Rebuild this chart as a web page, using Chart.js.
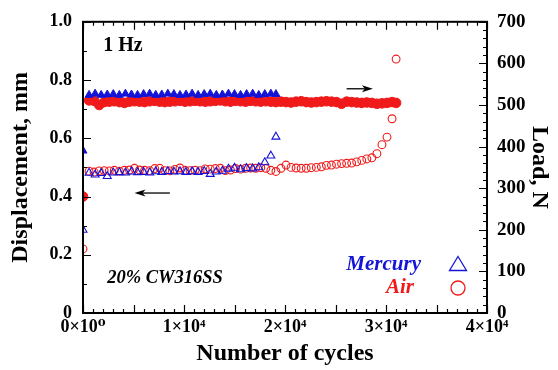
<!DOCTYPE html>
<html>
<head>
<meta charset="utf-8">
<script src="https://cdn.jsdelivr.net/npm/chart.js@4/dist/chart.umd.min.js"></script>
<style>
  html, body { margin: 0; padding: 0; background: #fff; }
  #wrap { width: 558px; height: 370px; }
</style>
</head>
<body>
<div id="wrap"><canvas id="chart"></canvas></div>
<script>
// cycles for the mercury test (shared by load and displacement)
const mercuryCycles = [0, 600, 1200, 1800, 2400, 3000, 3600, 4200, 4800, 5400, 6000, 6600,
  7200, 7800, 8400, 9000, 9600, 10200, 10800, 11400, 12000, 12600, 13200, 13800, 14400,
  15000, 15600, 16200, 16800, 17400, 18000, 18600, 19100];
const mercuryDisp = [0.285, 0.481, 0.475, 0.480, 0.470, 0.482, 0.483, 0.482, 0.485, 0.483,
  0.484, 0.482, 0.486, 0.484, 0.487, 0.485, 0.486, 0.484, 0.486, 0.484, 0.487, 0.477, 0.485,
  0.488, 0.495, 0.498, 0.493, 0.497, 0.496, 0.500, 0.517, 0.540, 0.605];
const mercuryLoad = [390, 524, 527, 524, 525, 526, 524, 527, 525, 524, 526, 527, 524, 525,
  527, 526, 524, 525, 527, 524, 526, 527, 524, 525, 527, 526, 524, 526, 527, 524, 526, 527, 526];

// cycles for the air test
const airCycles = [0, 600, 1100, 1600, 2100, 2600, 3100, 3600, 4100, 4600, 5100, 5600, 6100,
  6600, 7100, 7600, 8100, 8600, 9100, 9600, 10100, 10600, 11100, 11600, 12100, 12600, 13100,
  13600, 14100, 14600, 15100, 15600, 16100, 16600, 17100, 17600, 18100, 18600, 19100, 19600,
  20100, 20600, 21100, 21600, 22100, 22600, 23100, 23600, 24100, 24600, 25100, 25600, 26100,
  26600, 27100, 27600, 28100, 28600, 29100, 29600, 30100, 30600, 31000];
const airDisp = [0.22, 0.487, 0.484, 0.488, 0.489, 0.488, 0.490, 0.487, 0.490, 0.491, 0.497,
  0.491, 0.490, 0.489, 0.496, 0.497, 0.489, 0.488, 0.493, 0.498, 0.490, 0.489, 0.490, 0.489,
  0.495, 0.494, 0.496, 0.497, 0.489, 0.491, 0.496, 0.494, 0.497, 0.498, 0.497, 0.499, 0.497,
  0.490, 0.486, 0.497, 0.508, 0.500, 0.498, 0.497, 0.497, 0.499, 0.500, 0.502, 0.507, 0.508,
  0.511, 0.513, 0.514, 0.515, 0.519, 0.524, 0.529, 0.533, 0.547, 0.578, 0.604, 0.667, 0.872];
const airLoad = [280, 511, 510, 500, 507, 508, 509, 507, 505, 508, 509, 508, 507, 509, 510,
  508, 507, 508, 509, 510, 508, 509, 510, 509, 508, 509, 510, 511, 509, 508, 510, 509, 508,
  510, 509, 508, 509, 508, 507, 508, 507, 506, 508, 509, 507, 506, 507, 508, 509, 508, 507,
  503, 508, 507, 506, 505, 506, 505, 503, 504, 505, 507, 505];

const BLUE = "#1414d8";
const RED = "#f01a1a";
const FONT = "'Liberation Serif', 'DejaVu Serif', serif";

const pts = (xs, ys) => xs.map((x, i) => ({ x: x, y: ys[i] }));

// inward ticks on all four sides plus the frame
const frameTicks = {
  id: "frameTicks",
  afterDraw(chart) {
    const { ctx, chartArea: a } = chart;
    const x = chart.scales.x, y = chart.scales.y, y1 = chart.scales.y1;
    ctx.save();
    ctx.strokeStyle = "#000";
    ctx.lineWidth = 1.2;
    ctx.beginPath();
    for (let v = 0; v <= 40000; v += 1000) {
      const px = Math.round(x.getPixelForValue(v)) + 0.5;
      const len = v % 5000 === 0 ? 8 : 4;
      ctx.moveTo(px, a.bottom); ctx.lineTo(px, a.bottom - len);
      ctx.moveTo(px, a.top); ctx.lineTo(px, a.top + len);
    }
    for (let i = 0; i <= 10; i++) {
      const py = Math.round(y.getPixelForValue(i / 10)) + 0.5;
      ctx.moveTo(a.left, py); ctx.lineTo(a.left + (i % 2 === 0 ? 8 : 4), py);
    }
    for (let v = 0; v <= 700; v += 20) {
      const py = Math.round(y1.getPixelForValue(v)) + 0.5;
      ctx.moveTo(a.right, py); ctx.lineTo(a.right - (v % 100 === 0 ? 8 : 4), py);
    }
    ctx.stroke();
    ctx.lineWidth = 2;
    ctx.strokeRect(a.left, a.top, a.right - a.left, a.bottom - a.top);
    ctx.restore();
  }
};

function arrow(ctx, x0, y0, x1, y1) {
  const dir = Math.sign(x1 - x0);
  ctx.beginPath();
  ctx.moveTo(x0, y0); ctx.lineTo(x1 - dir * 8, y1);
  ctx.stroke();
  ctx.beginPath();
  ctx.moveTo(x1, y1);
  ctx.lineTo(x1 - dir * 11, y1 - 3.5);
  ctx.lineTo(x1 - dir * 8, y1);
  ctx.lineTo(x1 - dir * 11, y1 + 3.5);
  ctx.closePath();
  ctx.fill();
}

// text labels, arrows and the legend
const notes = {
  id: "notes",
  afterDraw(chart) {
    const { ctx } = chart;
    const x = chart.scales.x, y = chart.scales.y;
    ctx.save();
    ctx.fillStyle = "#000";
    ctx.strokeStyle = "#000";
    ctx.lineWidth = 1.3;
    ctx.textBaseline = "middle";

    ctx.font = "bold 20px " + FONT;
    ctx.textAlign = "left";
    ctx.fillText("1 Hz", x.getPixelForValue(2000), y.getPixelForValue(0.917));

    ctx.font = "italic bold 18.5px " + FONT;
    ctx.fillText("20% CW316SS", x.getPixelForValue(2400), y.getPixelForValue(0.118));

    arrow(ctx, x.getPixelForValue(26100), y.getPixelForValue(0.770),
      x.getPixelForValue(28700), y.getPixelForValue(0.770));
    arrow(ctx, x.getPixelForValue(8600), y.getPixelForValue(0.412),
      x.getPixelForValue(5100), y.getPixelForValue(0.412));

    // legend
    ctx.font = "italic bold 21px " + FONT;
    ctx.textAlign = "right";
    ctx.fillStyle = BLUE;
    ctx.fillText("Mercury", 421, 265);
    ctx.fillStyle = RED;
    ctx.fillText("Air", 414, 288);

    ctx.lineWidth = 1.3;
    ctx.strokeStyle = BLUE;
    ctx.beginPath();
    ctx.moveTo(458, 256.5); ctx.lineTo(466.5, 270.5); ctx.lineTo(449.5, 270.5);
    ctx.closePath();
    ctx.stroke();
    ctx.strokeStyle = RED;
    ctx.beginPath();
    ctx.arc(458, 288, 7, 0, Math.PI * 2);
    ctx.stroke();
    ctx.restore();
  }
};

new Chart(document.getElementById("chart").getContext("2d"), {
  type: "scatter",
  data: {
    datasets: [
      {
        label: "Mercury displacement",
        data: pts(mercuryCycles, mercuryDisp),
        yAxisID: "y",
        pointStyle: "triangle",
        pointRadius: 4.6,
        borderColor: BLUE,
        backgroundColor: "rgba(0,0,0,0)",
        borderWidth: 1.1
      },
      {
        label: "Air displacement",
        data: pts(airCycles, airDisp),
        yAxisID: "y",
        pointStyle: "circle",
        pointRadius: 3.9,
        borderColor: RED,
        backgroundColor: "rgba(0,0,0,0)",
        borderWidth: 1.1
      },
      {
        label: "Mercury load",
        data: pts(mercuryCycles, mercuryLoad),
        yAxisID: "y1",
        pointStyle: "triangle",
        pointRadius: 4.6,
        borderColor: BLUE,
        backgroundColor: BLUE,
        borderWidth: 1
      },
      {
        label: "Air load",
        data: pts(airCycles, airLoad),
        yAxisID: "y1",
        pointStyle: "circle",
        pointRadius: 4.8,
        borderColor: RED,
        backgroundColor: RED,
        borderWidth: 1
      }
    ]
  },
  options: {
    responsive: true,
    maintainAspectRatio: false,
    animation: false,
    layout: { padding: { top: 17, left: 0, right: 0, bottom: 0 } },
    plugins: {
      legend: { display: false },
      tooltip: { enabled: false }
    },
    scales: {
      x: {
        type: "linear",
        min: 0,
        max: 40000,
        grid: { display: false, drawTicks: false },
        border: { display: false },
        afterFit: s => { s.height = 57; },
        ticks: {
          stepSize: 10000,
          autoSkip: false,
          maxRotation: 0,
          padding: 4,
          color: "#000",
          font: { family: FONT, size: 18, weight: "bold" },
          callback: v => v === 0 ? "0\u00d710\u2070" : (v / 10000) + "\u00d710\u2074"
        },
        title: {
          display: true,
          text: "Number of cycles",
          color: "#000",
          padding: { top: 0, bottom: 2 },
          font: { family: FONT, size: 24, weight: "bold" }
        }
      },
      y: {
        position: "left",
        min: 0,
        max: 1,
        grid: { display: false, drawTicks: false },
        border: { display: false },
        afterFit: s => { s.width = 83; },
        ticks: {
          stepSize: 0.2,
          autoSkip: false,
          padding: 11,
          color: "#000",
          font: { family: FONT, size: 18, weight: "bold" },
          callback: v => v === 0 ? "0" : v.toFixed(1)
        },
        title: {
          display: true,
          text: "Displacement, mm",
          color: "#000",
          padding: { top: 6, bottom: 0 },
          font: { family: FONT, size: 24, weight: "bold" }
        }
      },
      y1: {
        position: "right",
        min: 0,
        max: 700,
        grid: { display: false, drawTicks: false },
        border: { display: false },
        afterFit: s => { s.width = 71; },
        ticks: {
          stepSize: 100,
          autoSkip: false,
          padding: 10,
          color: "#000",
          font: { family: FONT, size: 19, weight: "bold" }
        },
        title: {
          display: true,
          text: "Load, N",
          color: "#000",
          padding: { top: 4, bottom: 0 },
          font: { family: FONT, size: 24, weight: "bold" }
        }
      }
    }
  },
  plugins: [frameTicks, notes]
});
</script>
</body>
</html>
